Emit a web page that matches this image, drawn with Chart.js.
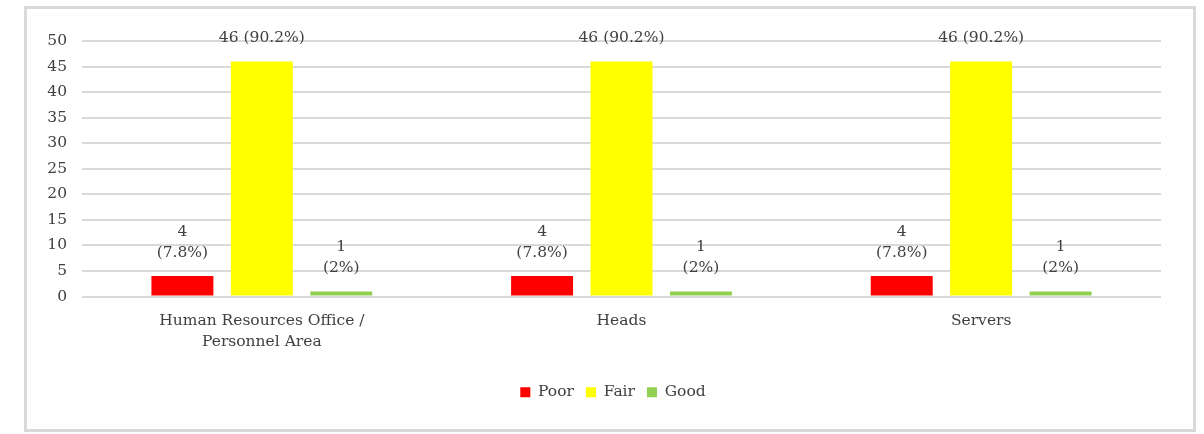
<!DOCTYPE html>
<html>
<head>
<meta charset="utf-8">
<script src="https://cdn.jsdelivr.net/npm/chart.js@4.4.1/dist/chart.umd.min.js"></script>
<style>
  html, body { margin: 0; padding: 0; background: #ffffff; }
  body { width: 1204px; height: 434px; position: relative; overflow: hidden; }
  #frame {
    position: absolute; left: 24px; top: 6px;
    width: 1166px; height: 420px;
    border: 3px solid #d9d9d9;
  }
  #wrap { position: absolute; left: 0; top: 0; width: 1204px; height: 434px; }
</style>
</head>
<body>
<div id="frame"></div>
<div id="wrap"><canvas id="chart"></canvas></div>
<script>
// Survey areas and the number of responses per rating
const categories = [['Human Resources Office /', 'Personnel Area'], 'Heads', 'Servers'];
const poorCounts = [4, 4, 4];
const fairCounts = [46, 46, 46];
const goodCounts = [1, 1, 1];
const seriesNames = ['Poor', 'Fair', 'Good'];
const yTicks = [0, 5, 10, 15, 20, 25, 30, 35, 40, 45, 50];

const FONT = "'DejaVu Serif', serif";
const TEXT = '#404040';
const FONT_SIZE = 15.5;

// Value labels: "n (p%)", wrapped onto two lines for the short bars
const oneLineLabel = [false, true, false];

const valueLabels = {
  id: 'valueLabels',
  afterDatasetsDraw(chart) {
    const ctx = chart.ctx;
    ctx.save();
    ctx.font = FONT_SIZE + 'px ' + FONT;
    ctx.fillStyle = TEXT;
    ctx.textAlign = 'center';
    ctx.textBaseline = 'middle';
    chart.data.datasets.forEach((ds, di) => {
      const meta = chart.getDatasetMeta(di);
      meta.data.forEach((bar, i) => {
        const total = chart.data.datasets.reduce((s, d) => s + d.data[i], 0);
        const v = ds.data[i];
        const pct = Math.round(v / total * 1000) / 10;
        const lines = oneLineLabel[di]
          ? [v + ' (' + pct + '%)']
          : [String(v), '(' + pct + '%)'];
        const n = lines.length;
        lines.forEach((t, k) => {
          ctx.fillText(t, bar.x, bar.y - 23 - (n - 1 - k) * 21);
        });
      });
    });
    ctx.restore();
  }
};

new Chart(document.getElementById('chart'), {
  type: 'bar',
  data: {
    labels: categories,
    datasets: [
      { label: seriesNames[0], data: poorCounts, backgroundColor: '#ff0000' },
      { label: seriesNames[1], data: fairCounts, backgroundColor: '#ffff00' },
      { label: seriesNames[2], data: goodCounts, backgroundColor: '#92d050' }
    ]
  },
  options: {
    responsive: true,
    maintainAspectRatio: false,
    animation: false,
    layout: { padding: { left: 22, top: 41, right: 0, bottom: 24 } },
    datasets: { bar: { categoryPercentage: 0.6625, barPercentage: 0.78 } },
    scales: {
      x: {
        grid: { display: false, drawTicks: false },
        border: { display: false },
        ticks: {
          color: TEXT, font: { family: FONT, size: FONT_SIZE, lineHeight: 1.36 },
          padding: 14, maxRotation: 0, autoSkip: false
        },
        afterFit(scale) { scale.height = 76; }
      },
      y: {
        min: 0, max: 50,
        afterBuildTicks(scale) { scale.ticks = yTicks.map(v => ({ value: v })); },
        grid: { color: '#d9d9d9', lineWidth: 2, drawTicks: false },
        border: { display: false },
        ticks: { color: TEXT, font: { family: FONT, size: FONT_SIZE }, padding: 15 },
        afterFit(scale) { scale.width = 60; }
      },
      // empty right-hand margin beside the plot
      yRight: {
        position: 'right',
        min: 0, max: 50,
        grid: { display: false, drawTicks: false },
        border: { display: false },
        ticks: { display: false },
        afterFit(scale) { scale.width = 43; }
      }
    },
    plugins: {
      legend: {
        position: 'bottom',
        labels: {
          color: TEXT, font: { family: FONT, size: FONT_SIZE },
          boxWidth: 10, boxHeight: 10, padding: 12
        }
      },
      tooltip: { enabled: false }
    }
  },
  plugins: [valueLabels]
});
</script>
</body>
</html>
